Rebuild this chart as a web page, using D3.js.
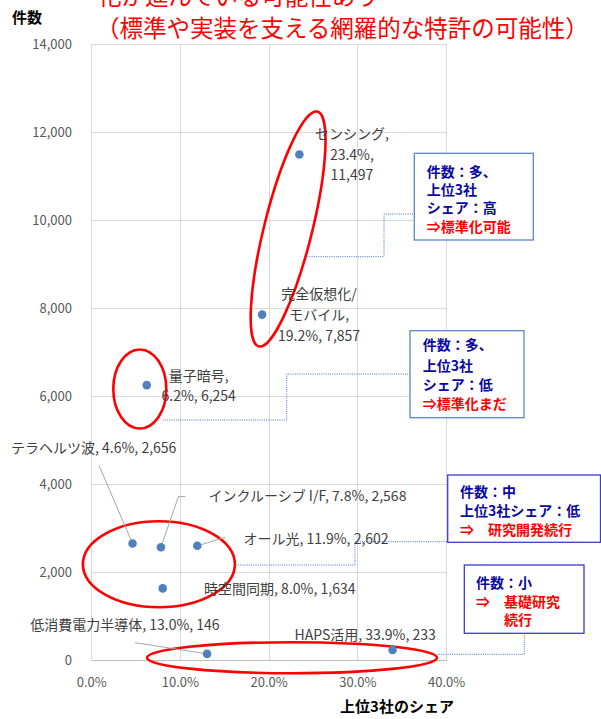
<!DOCTYPE html>
<html><head><meta charset="utf-8">
<script src="https://cdn.jsdelivr.net/npm/d3@7"></script>
<style>
html,body{margin:0;padding:0;background:#fff;}
svg{display:block;font-family:"Noto Sans CJK JP","Noto Sans",sans-serif;}
</style></head>
<body>
<script>
// ---- data ----
const names  = ["センシング","完全仮想化/モバイル","量子暗号","テラヘルツ波","インクルーシブ I/F","オール光","時空間同期","低消費電力半導体","HAPS活用"];
const shares = [23.4, 19.2, 6.2, 4.6, 7.8, 11.9, 8.0, 13.0, 33.9];
const counts = [11497, 7857, 6254, 2656, 2568, 2602, 1634, 146, 233];
const xTicks = [0, 10, 20, 30, 40];
const yTicks = [0, 2000, 4000, 6000, 8000, 10000, 12000, 14000];
const titleLines = ["化が進んでいる可能性あり", "（標準や実装を支える網羅的な特許の可能性）"];
const yTitle = "件数";
const xTitle = "上位3社のシェア";

// ---- layout (styling only) ----
const W = 601, H = 719;
const fmtPct = d => d.toFixed(1) + "%";
const fmtNum = d3.format(",");

const svg = d3.select("body").append("svg").attr("width", W).attr("height", H);
const x = d3.scaleLinear().domain([0, 40]).range([91.7, 446.7]);
const y = d3.scaleLinear().domain([0, 14000]).range([660.3, 44.3]);

// gridlines
svg.append("g").selectAll("line").data(yTicks).join("line")
  .attr("x1", x(0)).attr("x2", x(40)).attr("y1", d => y(d)).attr("y2", d => y(d))
  .attr("stroke", d => d === 0 ? "#bfbfbf" : "#d9d9d9").attr("stroke-width", 1).attr("shape-rendering", "crispEdges");
svg.append("g").selectAll("line").data(xTicks).join("line")
  .attr("x1", d => x(d)).attr("x2", d => x(d)).attr("y1", y(0)).attr("y2", y(14000))
  .attr("stroke", "#d9d9d9").attr("stroke-width", 1).attr("shape-rendering", "crispEdges");

// tick labels
svg.append("g").selectAll("text").data(yTicks).join("text")
  .attr("x", 72).attr("y", d => y(d) + 4.8).attr("text-anchor", "end")
  .attr("font-size", 13).attr("fill", "#595959").text(d => fmtNum(d));
svg.append("g").selectAll("text").data(xTicks).join("text")
  .attr("x", d => x(d)).attr("y", 686.5).attr("text-anchor", "middle")
  .attr("font-size", 13).attr("fill", "#595959").text(d => fmtPct(d));

// axis titles
svg.append("text").attr("x", 12).attr("y", 23).attr("font-size", 15).attr("font-weight", 700)
  .attr("fill", "#000").text(yTitle);
svg.append("text").attr("x", 397).attr("y", 712).attr("text-anchor", "middle").attr("font-size", 15)
  .attr("font-weight", 700).attr("fill", "#000").text(xTitle);

// title (red, first line partially cut off at the top as in the reference)
svg.append("g").selectAll("text").data(titleLines).join("text")
  .attr("x", (d, i) => i === 0 ? 98 : 96).attr("y", (d, i) => i === 0 ? 5 : 37)
  .attr("font-size", 23.5).attr("fill", "#ff0000").text(d => d);

// ellipses (data-space centres)
const ellipses = [
  {cx: 22.13, cy: 9802, rx: 24, ry: 121, rot: 14},
  {cx: 5.42, cy: 6166, rx: 26.5, ry: 39.5, rot: 0},
  {cx: 7.57, cy: 2182, rx: 76, ry: 43, rot: 0},
  {cx: 22.57, cy: 59, rx: 145, ry: 15.5, rot: 0}
];
svg.append("g").selectAll("ellipse").data(ellipses).join("ellipse")
  .attr("cx", 0).attr("cy", 0).attr("rx", d => d.rx).attr("ry", d => d.ry)
  .attr("transform", d => `translate(${x(d.cx)},${y(d.cy)}) rotate(${d.rot})`)
  .attr("fill", "none").attr("stroke", "#ff0000").attr("stroke-width", 2.6);

// connectors (dotted)
const connectors = [
  [[307.3,256.7],[384,256.7],[384,214],[414.3,214]],
  [[162.7,420],[286.7,420],[286.7,374],[410,374]],
  [[235.7,565],[355,565],[355,541.7],[447.7,541.7]],
  [[436.7,654.3],[524.3,654.3],[524.3,633.3]]
];
svg.append("g").selectAll("path").data(connectors).join("path")
  .attr("d", d => d3.line()(d)).attr("fill", "none").attr("stroke", "#4472c4")
  .attr("stroke-width", 1).attr("stroke-dasharray", "1,1.2");

// boxes
const boxes = [
  {x0: 414.3, y0: 153.3, x1: 533.3, y1: 240, stroke: "#5b87c5", tx: 426.7,
   lines: [["件数：多、","#0a0aa0",176.7],["上位3社","#0a0aa0",195],["シェア：高","#0a0aa0",213.3],["⇒標準化可能","#ff0000",231.5]]},
  {x0: 410, y0: 330.7, x1: 524, y1: 417.7, stroke: "#5b87c5", tx: 422.7,
   lines: [["件数：多、","#0a0aa0",350],["上位3社","#0a0aa0",371],["シェア：低","#0a0aa0",390],["⇒標準化まだ","#ff0000",408.5]]},
  {x0: 447.7, y0: 475, x1: 600.5, y1: 542.3, stroke: "#3b3bd0", tx: 460,
   lines: [["件数：中","#0a0aa0",496.7],["上位3社シェア：低","#0a0aa0",515.7],["⇒　研究開発続行","#ff0000",535]]},
  {x0: 464.3, y0: 565, x1: 584, y1: 633.3, stroke: "#3b3bd0", tx: 476,
   lines: [["件数：小","#0a0aa0",588.3],["⇒　基礎研究","#ff0000",606.7],["　　続行","#ff0000",625]]}
];
const bg = svg.append("g").selectAll("g").data(boxes).join("g");
bg.append("rect").attr("x", d => d.x0).attr("y", d => d.y0)
  .attr("width", d => d.x1 - d.x0).attr("height", d => d.y1 - d.y0)
  .attr("fill", "#fff").attr("stroke", d => d.stroke).attr("stroke-width", 1.3);
bg.each(function(b) {
  d3.select(this).selectAll("text").data(b.lines).join("text")
    .attr("x", b.tx).attr("y", d => d[2]).attr("fill", d => d[1])
    .attr("font-size", 14).attr("font-weight", 700).text(d => d[0]);
});

// leader lines (offset endpoints relative to points)
const leaders = [
  {i: 3, pts: [[-33.5,-78]]},
  {i: 4, pts: [[17.5,-50.8],[24.2,-50.8]]},
  {i: 5, pts: [[27.9,-8.5]]},
  {i: 7, pts: [[-72,-11.2]]}
];
svg.append("g").selectAll("path").data(leaders).join("path")
  .attr("d", d => {
    const px = x(shares[d.i]), py = y(counts[d.i]);
    return d3.line()([[px, py]].concat(d.pts.map(p => [px + p[0], py + p[1]])));
  })
  .attr("fill", "none").attr("stroke", "#a6a6a6").attr("stroke-width", 1);

// points
svg.append("g").selectAll("circle").data(d3.range(names.length)).join("circle")
  .attr("cx", i => x(shares[i])).attr("cy", i => y(counts[i])).attr("r", 4.3)
  .attr("fill", "#4f81bd");

// data labels
const labelLayout = [
  {anchor: "middle", dx: 52.5, dy: -15.4, lh: 20.5, lines: i => [names[i] + ",", fmtPct(shares[i]) + ",", fmtNum(counts[i])]},
  {anchor: "middle", dx: 57, dy: -15.6, lh: 21, lines: i => ["完全仮想化/", "モバイル,", fmtPct(shares[i]) + ", " + fmtNum(counts[i])]},
  {anchor: "middle", dx: 52, dy: -4, lh: 20, lines: i => [names[i] + ",", fmtPct(shares[i]) + ", " + fmtNum(counts[i])]},
  {anchor: "start", dx: -121.5, dy: -90, lh: 20},
  {anchor: "start", dx: 47.5, dy: -46.5, lh: 20},
  {anchor: "start", dx: 46.2, dy: -1.5, lh: 20},
  {anchor: "start", dx: 41.4, dy: 5.6, lh: 20},
  {anchor: "start", dx: -176.9, dy: -23.9, lh: 20},
  {anchor: "start", dx: -98, dy: -10, lh: 20}
];
const lg = svg.append("g").selectAll("text").data(d3.range(names.length)).join("text")
  .attr("font-size", 14).attr("fill", "#404040")
  .attr("text-anchor", i => labelLayout[i].anchor);
lg.each(function(i) {
  const L = labelLayout[i];
  const lines = L.lines ? L.lines(i) : [names[i] + ", " + fmtPct(shares[i]) + ", " + fmtNum(counts[i])];
  const px = x(shares[i]) + L.dx, py = y(counts[i]) + L.dy;
  d3.select(this).selectAll("tspan").data(lines).join("tspan")
    .attr("x", px).attr("y", (d, k) => py + k * L.lh).text(d => d);
});
</script>
</body></html>
